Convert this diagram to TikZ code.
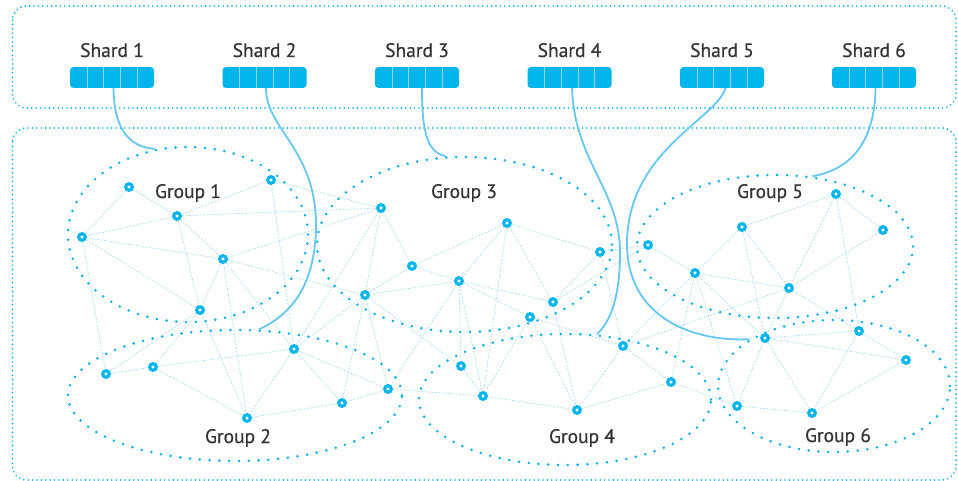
\documentclass[tikz,border=0pt]{standalone}
\usepackage{fontspec}
\setmainfont{PT Sans}
\newfontfamily\labfont{PT Sans}[FakeBold=0.5]
\usetikzlibrary{shapes.geometric,backgrounds}
\definecolor{cy}{RGB}{0,180,236}
\definecolor{dotc}{RGB}{0,174,239}
\definecolor{edgec}{RGB}{175,222,243}
\definecolor{linkc}{RGB}{100,200,242}
\definecolor{txt}{RGB}{52,52,52}
\definecolor{cellc}{RGB}{130,218,246}
\begin{document}
\begin{tikzpicture}[x=1pt,y=-1pt,
  frame/.style={draw=dotc, line width=1.8pt, dash pattern=on 0pt off 4.4pt, line cap=round, rounded corners=14pt},
  group/.style={ellipse, draw=dotc, line width=2.8pt, dash pattern=on 0pt off 9.8pt, line cap=round, inner sep=0pt},
  pt/.style={circle, draw=cy, line width=3.1pt, fill=white, minimum size=6.6pt, inner sep=0pt},
  lnk/.style={draw=edgec, line width=0.7pt, dash pattern=on 2pt off 1.5pt},
  conn/.style={draw=linkc, line width=1.8pt},
  shard/.style={rectangle, rounded corners=3.5pt, fill=cy, minimum width=84pt, minimum height=21pt, inner sep=0pt,
    path picture={\foreach \i in {1,...,4} \draw[cellc, line width=0.6pt] ([xshift=\i*16.8pt]path picture bounding box.north west) -- ([xshift=\i*16.8pt]path picture bounding box.south west);}},
  lbl/.style={text=txt, font=\labfont\fontsize{19.5}{21}\selectfont, inner sep=0pt, anchor=base}]
\useasboundingbox (0,0) rectangle (958,481);
% frames
\draw[frame] (12.5,6) rectangle (956,108);
\draw[frame] (12.5,128) rectangle (956,480);
% shards
\foreach \i/\x in {1/112,2/264.5,3/417,4/569.5,5/722,6/874}{
  \node[shard] (s\i) at (\x,77.5) {};
  \node[lbl] (sl\i) at (\x,57) {Shard \i};
}
% groups
\node[group, minimum width=240pt, minimum height=175pt] (g1) at (188,234.5) {};
\node[group, minimum width=334pt, minimum height=131pt] (g2) at (235,395.5) {};
\node[group, minimum width=295pt, minimum height=175pt] (g3) at (464.5,244.5) {};
\node[group, minimum width=292pt, minimum height=131pt] (g4) at (565,399.5) {};
\node[group, minimum width=276pt, minimum height=143pt] (g5) at (775,246.5) {};
\node[group, minimum width=232pt, minimum height=132pt] (g6) at (834,386) {};
\node[lbl] (gl1) at (188,198) {Group 1};
\node[lbl] (gl2) at (238,443) {Group 2};
\node[lbl] (gl3) at (464,198) {Group 3};
\node[lbl] (gl4) at (582,443) {Group 4};
\node[lbl] (gl5) at (770,198) {Group 5};
\node[lbl] (gl6) at (838,442) {Group 6};
% points
\foreach \n/\x/\y in {a1/129/187,a2/177/216,a3/82/237,a4/223/259,a5/200/310,a6/271/180,
  c1/381/208,c2/507/223,c3/600/252,c4/412/266,c5/459/281,c6/365/295,c7/553/302,c8/530/317,
  e1/836/194,e2/742/227,e3/883/230,e4/648/245,e5/695/273,e6/789/288,
  b1/106/374,b2/153/367,b3/294/349,b4/388/389,b5/342/403,b6/247/418,
  d1/461/366,d2/483/396,d3/577/410,d4/623/346,d5/671/382,
  f1/765/338,f2/859/331,f3/906/360,f4/737/406,f5/812/413}
  \node[pt] (\n) at (\x,\y) {};
% mesh links
\begin{pgfonlayer}{background}
\foreach \u/\v in {a1/a2,a1/a3,a2/a3,a2/a4,a2/a5,a2/a6,a3/a5,a3/a4,a4/a5,a2/c1,a6/c1,a4/c1,a4/c6,
  a3/b1,a5/b1,a5/b2,a5/b6,a4/b6,a4/b3,a6/b3,
  b1/b2,b2/b3,b2/b6,b3/b6,b3/b5,b3/b4,b6/b5,b5/b4,b3/c1,b3/c6,c6/b5,c6/b4,b4/d2,
  c1/c4,c1/c6,c4/c6,c4/c5,c6/c5,c5/c2,c5/c7,c5/c8,c2/c3,c2/c7,c2/c4,c3/c7,c2/d2,c3/d4,
  c5/d1,c5/d2,c5/b4,c6/d1,c8/d2,c8/d3,c7/d3,c8/d4,c3/e4,c7/e4,
  d1/d2,d2/d3,d3/d4,d4/d5,d3/d5,d4/e5,d5/e5,d5/f4,d4/e6,
  e1/e2,e1/e3,e1/e6,e2/e5,e2/e6,e3/e6,e4/e5,e5/e6,e5/f1,e2/f1,e1/f2,e6/f1,e6/f2,e5/f4,
  f1/f2,f1/f3,f1/f5,f2/f3,f2/f5,f3/f5,f4/f5,f4/f1}
  \draw[lnk] (\u) -- (\v);
\end{pgfonlayer}
% shard-to-group connectors
\coordinate (m2) at (316,230);
\coordinate (m4) at (620,258);
\coordinate (m5) at (627,240);
\draw[conn] ([xshift=1.5pt]s1.south) .. controls (114,125) and (126,147) .. (g1.111);
\draw[conn] ([xshift=1.5pt]s2.south) .. controls (266,130) and (318,150) .. (m2) .. controls (314,290) and (288,316) .. (g2.70);
\draw[conn] ([xshift=5pt]s3.south) .. controls (422,135) and (428,152) .. (g3.102);
\draw[conn] ([xshift=2.5pt]s4.south) .. controls (575,165) and (622,190) .. (m4) .. controls (619,300) and (610,322) .. (g4.64);
\draw[conn] ([xshift=3.5pt]s5.south) .. controls (715,120) and (630,150) .. (m5) .. controls (625,322) and (700,342) .. (g6.151);
\draw[conn] ([xshift=1.5pt]s6.south) .. controls (875,130) and (860,168) .. (g5.62);
\end{tikzpicture}
\end{document}
